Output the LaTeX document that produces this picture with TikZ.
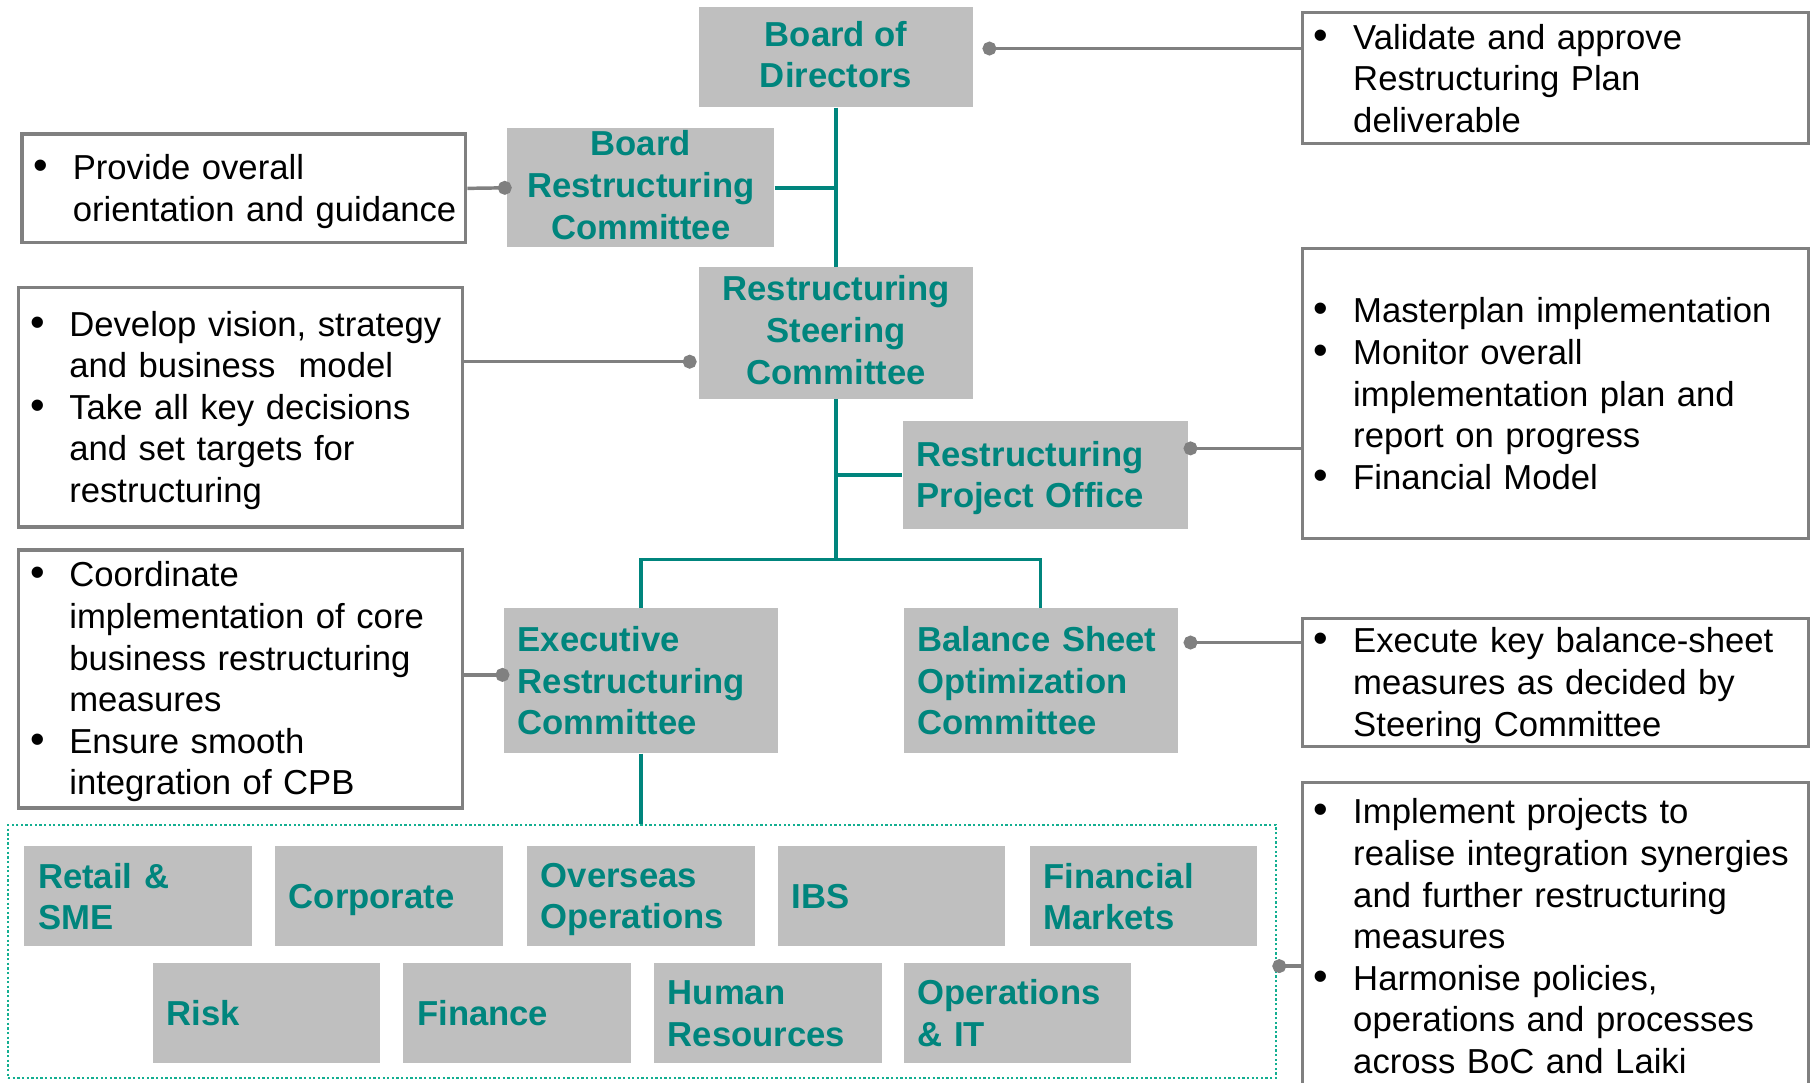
\documentclass[tikz,border=0pt]{standalone}
\usepackage{fontspec}
\setmainfont{Liberation Sans}
\usetikzlibrary{arrows.meta}

\definecolor{orgteal}{RGB}{0,133,125}
\definecolor{framegreen}{RGB}{20,175,145}
\definecolor{unitgray}{RGB}{191,191,191}
\definecolor{linegray}{RGB}{128,128,128}

% bullet line and continued line
\newcommand{\bul}[1]{\makebox[34pt][l]{\fontsize{36}{36}\selectfont\textbullet}\mbox{#1}}
\newcommand{\ind}[1]{\hspace*{34pt}\mbox{#1}}
% first and last line of a box
\newcommand{\lnstrut}{\vrule height 27pt depth 5pt width 0pt}

\begin{document}
\begin{tikzpicture}[x=1pt,y=-1pt,
    unit/.style={fill=unitgray,text=orgteal,font=\fontsize{30}{36}\selectfont\bfseries,inner xsep=12pt,inner ysep=0pt,
        execute at begin node=\lnstrut,execute at end node=\lnstrut},
    notes/.style={draw=linegray,line width=3pt,fill=white,font=\fontsize{30}{36}\selectfont,align=left,inner xsep=10pt,inner ysep=0pt,
        execute at begin node=\lnstrut,execute at end node=\lnstrut},
    teallink/.style={draw=orgteal,line width=3pt},
    graylink/.style={draw=linegray,line width=3pt,-{Circle[length=12pt]}},
    groupframe/.style={draw=framegreen,line width=2pt,dash pattern=on 2pt off 2pt}]

        \useasboundingbox (0,0) rectangle (1568,937);

        \coordinate (bodlvl)  at (0,42);
        \coordinate (rsclvl)  at (0,313);
        \coordinate (rpolvl)  at (0,388);
        \coordinate (split)   at (723.5,484);
        \coordinate (erclvl)  at (0,584);
        \coordinate (bsoclvl) at (0,556);
        \coordinate (grplvl)  at (0,836);

        % frame round the business units
        \node [groupframe,minimum width=1097,minimum height=219] (grp) at (555.5,823.5) {};

        % committees
        \node [unit,align=center,minimum width=237,minimum height=87] (bod) at (723.5,49.5) {Board of\\Directors};
        \node [unit,align=center,minimum width=231,minimum height=103] (brc) at (554.5,162.5) {Board\\Restructuring\\Committee};
        \node [unit,align=center,minimum width=237,minimum height=114] (rsc) at (723.5,288) {Restructuring\\Steering\\Committee};
        \node [unit,align=left,text width=223,minimum height=94] (rpo) at (904.5,411) {Restructuring\\Project Office};
        \node [unit,align=left,text width=213,minimum height=126] (erc) at (554.5,589) {Executive\\Restructuring\\Committee};
        \node [unit,align=left,text width=213,minimum height=126] (bsoc) at (900.5,589) {Balance Sheet\\Optimization\\Committee};

        % business units, first row
        \node [unit,align=left,text width=173,minimum height=87] (retail) at (119.5,775.5) {Retail \&\\SME};
        \node [unit,align=left,text width=173,minimum height=87] (corp)   at (336.5,775.5) {Corporate};
        \node [unit,align=left,text width=173,minimum height=87] (ovs)    at (554.5,775.5) {Overseas\\Operations};
        \node [unit,align=left,text width=173,minimum height=87] (ibs)    at (771.5,775.5) {IBS};
        \node [unit,align=left,text width=173,minimum height=87] (fm)     at (989.5,775.5) {Financial\\Markets};

        % business units, second row
        \node [unit,align=left,text width=173,minimum height=87] (risk) at (230.5,876.5) {Risk};
        \node [unit,align=left,text width=173,minimum height=87] (fin)  at (447.5,876.5) {Finance};
        \node [unit,align=left,text width=173,minimum height=87] (hr)   at (664.5,876.5) {Human\\Resources};
        \node [unit,align=left,text width=173,minimum height=87] (ops)  at (880.5,876.5) {Operations\\\& IT};

        % role descriptions, left
        \node [notes,text width=364,minimum height=94] (l1) at (211,163)
            {\bul{Provide overall}\\\ind{orientation and guidance}};
        \node [notes,text width=364,minimum height=207] (l2) at (208,352.5)
            {\bul{Develop vision, strategy}\\\ind{and business\ \ model}\\\bul{Take all key decisions}\\\ind{and set targets for}\\\ind{restructuring}};
        \node [notes,text width=364,minimum height=223] (l3) at (208,587.5)
            {\bul{Coordinate}\\\ind{implementation of core}\\\ind{business restructuring}\\\ind{measures}\\\bul{Ensure smooth}\\\ind{integration of CPB}};

        % role descriptions, right
        \node [notes,text width=418,minimum height=113] (r1) at (1346,67.5)
            {\bul{Validate and approve}\\\ind{Restructuring Plan}\\\ind{deliverable}};
        \node [notes,text width=418,minimum height=251] (r2) at (1346,340.5)
            {\bul{Masterplan implementation}\\\bul{Monitor overall}\\\ind{implementation plan and}\\\ind{report on progress}\\\bul{Financial Model}};
        \node [notes,text width=418,minimum height=111] (r3) at (1346,590.5)
            {\bul{Execute key balance-sheet}\\\ind{measures as decided by}\\\ind{Steering Committee}};
        \node [notes,text width=418,minimum height=266] (r4) at (1346,810)
            {\bul{Implement projects to}\\\ind{realise integration synergies}\\\ind{and further restructuring}\\\ind{measures}\\\bul{Harmonise policies,}\\\ind{operations and processes}\\\ind{across BoC and Laiki}};

        % reporting lines
        \draw [teallink] (bod.south) -- (rsc.north);
        \draw [teallink] (brc.east) -- (brc.east -| bod.south);
        \draw [teallink] (rsc.south) -- (split);
        \draw [teallink] (rpo.west -| rsc.south) -- (rpo.west);
        \draw [teallink] (erc.north) |- (split) -| (bsoc.north);
        \draw [teallink] (erc.south) -- (erc.south |- grp.north);

        % links to the role descriptions
        \draw [graylink,shorten >=8pt]  (r1.west |- bodlvl) -- (bod.east |- bodlvl);
        \draw [graylink,shorten >=-4pt] (l1.east) -- (brc.west);
        \draw [graylink,shorten >=2pt]  (l2.east |- rsclvl) -- (rsc.west |- rsclvl);
        \draw [graylink,shorten >=-4pt] (r2.west |- rpolvl) -- (rpo.east |- rpolvl);
        \draw [graylink,shorten >=-5pt] (l3.east |- erclvl) -- (erc.west |- erclvl);
        \draw [graylink,shorten >=5pt]  (r3.west |- bsoclvl) -- (bsoc.east |- bsoclvl);
        \draw [graylink,shorten >=-4pt] (r4.west |- grplvl) -- (grp.east |- grplvl);

    \end{tikzpicture}
\end{document}
